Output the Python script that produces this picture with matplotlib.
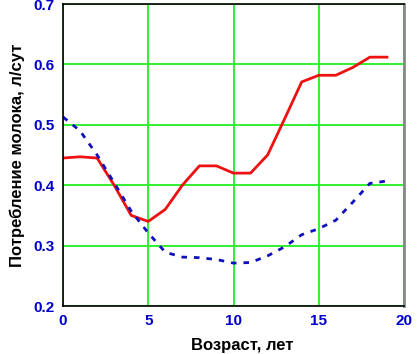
import matplotlib
matplotlib.use("Agg")
import matplotlib.pyplot as plt

age = list(range(0, 20))
red = [0.445, 0.447, 0.445, 0.40, 0.35, 0.34, 0.36, 0.40, 0.432, 0.432,
       0.42, 0.42, 0.45, 0.51, 0.571, 0.582, 0.582, 0.595, 0.612, 0.612]
blue = [0.513, 0.49, 0.45, 0.404, 0.357, 0.321, 0.289, 0.281, 0.28, 0.277,
        0.271, 0.272, 0.283, 0.298, 0.318, 0.328, 0.342, 0.372, 0.403, 0.407]
xticks = [0, 5, 10, 15, 20]
yticks = [0.2, 0.3, 0.4, 0.5, 0.6, 0.7]
ylabels = ["0.2", "0.3", "0.4", "0.5", "0.6", "0.7"]

plt.rcParams['font.family'] = ['Liberation Sans', 'DejaVu Sans']
fig = plt.figure(figsize=(4.18, 3.54), dpi=100)
ax = fig.add_axes([63/418, 1-306/354, (404-63)/418, (306-4)/354])
ax.set_xlim(0, 20)
ax.set_ylim(0.2, 0.7)
ax.grid(True, color='#22ee22', linewidth=1.3)
ax.set_axisbelow(True)
ax.plot(age, red, color='#ee1111', linewidth=2.0, solid_joinstyle='round')
ax.plot(age, blue, color='#1111bb', linewidth=2.0, linestyle=(0, (2, 2.5)))
ax.set_xticks(xticks)
ax.set_xticklabels([str(t) for t in xticks])
ax.set_yticks(yticks)
ax.set_yticklabels(ylabels)
ax.tick_params(length=0, labelsize=11, labelcolor='#0000cc', pad=6)
for lab in ax.get_xticklabels() + ax.get_yticklabels():
    lab.set_fontweight('bold')
for s in ['left', 'bottom', 'top']:
    ax.spines[s].set_color('black')
    ax.spines[s].set_linewidth(1.2)
ax.spines['right'].set_color('#888888')
ax.spines['right'].set_linewidth(2)
ax.set_xlabel('Возраст, лет', fontsize=12, fontweight='bold')
ax.xaxis.set_label_coords(0.525, -0.105)
ax.set_ylabel('Потребление молока, л/сут', fontsize=12, fontweight='bold', labelpad=6)
fig.savefig('out.png', dpi=100)
